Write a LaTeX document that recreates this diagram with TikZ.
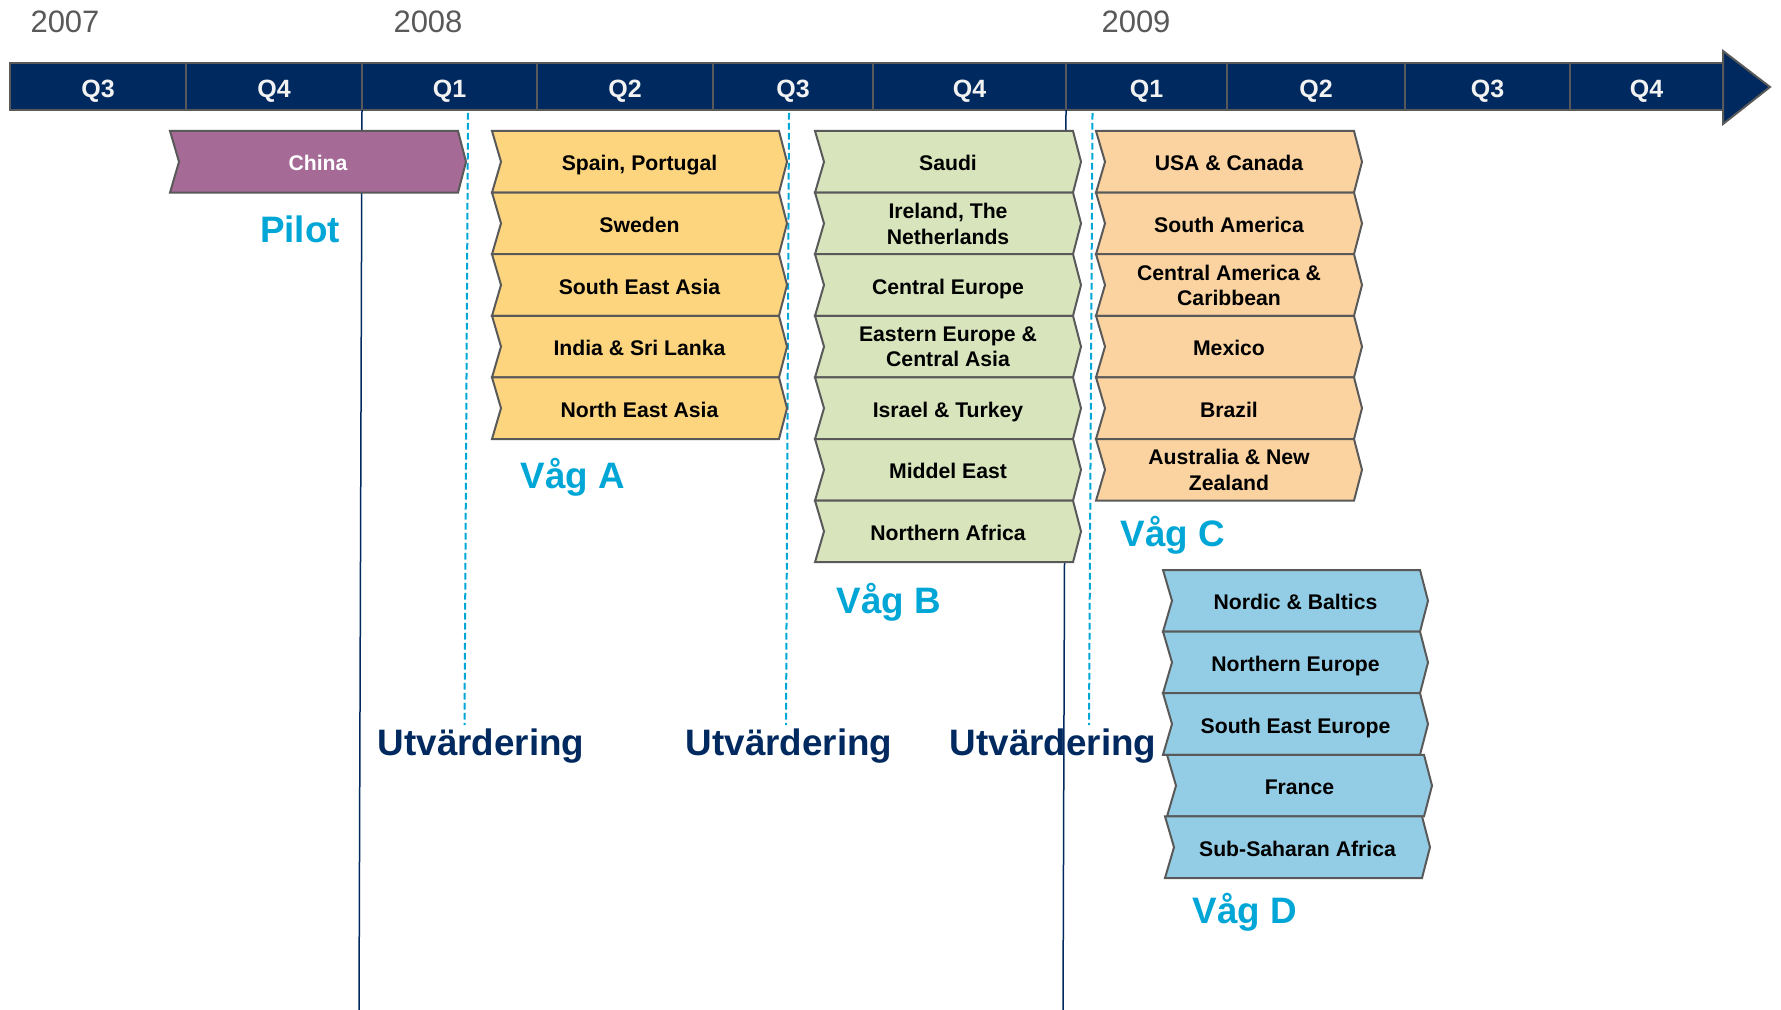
\documentclass[tikz,border=0pt]{standalone}
\usepackage{fontspec}
\setmainfont{Liberation Sans}
\usepackage{xcolor}
\usepackage{tikz}
\definecolor{barblue}{RGB}{0,41,95}
\definecolor{edgegray}{RGB}{89,89,89}
\definecolor{yeargray}{RGB}{89,89,89}
\definecolor{wavecyan}{RGB}{0,166,214}
\definecolor{pilotpurple}{RGB}{165,107,150}
\definecolor{waveA}{RGB}{254,213,127}
\definecolor{waveB}{RGB}{215,228,188}
\definecolor{waveC}{RGB}{251,211,160}
\definecolor{waveD}{RGB}{147,205,229}
\newcommand{\landbox}[6]{%
  \draw[boxline, fill=#2] (#3,#5) -- ({#4-8},#5) -- (#4,{#5+30.8}) -- ({#4-8},{#5+61.6})
    -- (#3,{#5+61.6}) -- ({#3+9},{#5+30.8}) -- cycle;
  \node[landtext] (#1) at ({(#3+#4)/2},{#5+30.8}) {#6};
}

\begin{document}
\begin{tikzpicture}[x=0.5pt, y=-0.5pt,
  boxline/.style={draw=edgegray, line width=1pt},
  landtext/.style={align=center, inner sep=0pt, font=\bfseries\fontsize{10.6}{12.8}\selectfont,
    execute at begin node=\strut, execute at end node=\strut, yshift=-2pt},
  barseg/.style={draw=edgegray, line width=1pt, fill=barblue},
  quarter/.style={anchor=base, text=white!95!black, font=\bfseries\fontsize{12.5}{15}\selectfont},
  year/.style={anchor=base, text=yeargray, font=\fontsize{15.5}{18}\selectfont},
  wave/.style={anchor=base, text=wavecyan, font=\bfseries\fontsize{18.4}{22}\selectfont},
  evaluation/.style={anchor=base, text=barblue, font=\bfseries\fontsize{18.4}{22}\selectfont},
  milestone/.style={barblue, line width=0.75pt},
  checkpoint/.style={wavecyan, line width=1pt, dash pattern=on 3.3pt off 1.7pt}]
  \useasboundingbox (0,0) rectangle (1781,1010);

  % years
  \node[year] (y2007) at (65,33) {2007};
  \node[year] (y2008) at (428,33) {2008};
  \node[year] (y2009) at (1136,33) {2009};

  % time line
  \foreach \xa/\xb/\q [count=\i] in {10/186/Q3, 186/362/Q4, 362/537/Q1, 537/713/Q2, 713/873/Q3,
      873/1066/Q4, 1066/1227/Q1, 1227/1405/Q2, 1405/1570/Q3, 1570/1723/Q4} {
    \draw[barseg] (\xa,63) rectangle (\xb,110);
    \node[quarter] (q\i) at ({(\xa+\xb)/2},98) {\q};
  }
  \draw[barseg] (1723,51) -- (1770,87) -- (1723,124) -- cycle;

  \draw[milestone] (362,110) -- (359,1010);
  \draw[milestone] (1066,110) -- (1063,1010);
  \draw[checkpoint] (468,113) -- (464.5,725);
  \draw[checkpoint] (789,113) -- (786,725);
  \draw[checkpoint] (1092.5,113) -- (1089,725);

  % waves
  \landbox{china}{pilotpurple}{170}{466}{131}{\color{white}China}
  \foreach \txt [count=\i from 0] in {{Spain, Portugal}, Sweden, {South East Asia},
      {India \& Sri Lanka}, {North East Asia}}
    {\landbox{a\i}{waveA}{492}{787}{131+61.6*\i}{\txt}}
  \foreach \txt [count=\i from 0] in {Saudi, {Ireland, The\\Netherlands}, {Central Europe},
      {Eastern Europe \&\\Central Asia}, {Israel \& Turkey}, {Middel East}, {Northern Africa}}
    {\landbox{b\i}{waveB}{815}{1081}{131+61.6*\i}{\txt}}
  \foreach \txt [count=\i from 0] in {{USA \& Canada}, {South America},
      {Central America \&\\Caribbean}, Mexico, Brazil, {Australia \& New\\Zealand}}
    {\landbox{c\i}{waveC}{1096}{1362}{131+61.6*\i}{\txt}}
  \foreach \dx/\txt [count=\i from 0] in {0/{Nordic \& Baltics}, 0/{Northern Europe},
      0/{South East Europe}, 4/France, 2/{Sub-Saharan Africa}}
    {\landbox{d\i}{waveD}{1163+\dx}{1428+\dx}{570+61.6*\i}{\txt}}

  \node[wave] (pilot) at (300,243) {Pilot};
  \node[wave] (vagA) at (573,488) {Våg A};
  \node[wave] (vagB) at (889,613) {Våg B};
  \node[wave] (vagC) at (1173,546) {Våg C};
  \node[wave] (vagD) at (1245,923) {Våg D};

  \node[evaluation] (eval1) at (481,755) {Utvärdering};
  \node[evaluation] (eval2) at (789,755) {Utvärdering};
  \node[evaluation] (eval3) at (1053,755) {Utvärdering};
\end{tikzpicture}
\end{document}
